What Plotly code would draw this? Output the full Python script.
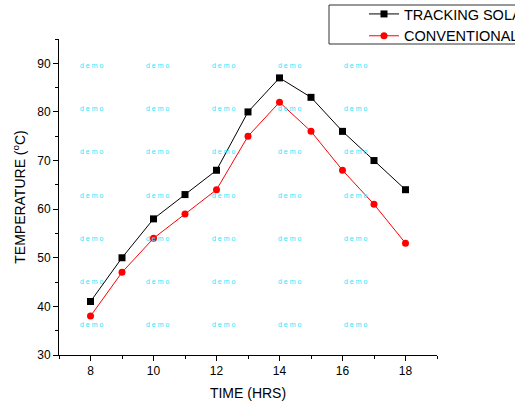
import plotly.graph_objects as go

hours = [8, 9, 10, 11, 12, 13, 14, 15, 16, 17, 18]
tracking = [41, 50, 58, 63, 68, 80, 87, 83, 76, 70, 64]
conventional = [38, 47, 54, 59, 64, 75, 82, 76, 68, 61, 53]
series_names = ["TRACKING SOLAR STILL", "CONVENTIONAL SOLAR STILL"]
x_ticks = [8, 10, 12, 14, 16, 18]
y_ticks = [30, 40, 50, 60, 70, 80, 90]

W, H = 515, 407
L, R, T, B = 59, 78, 39, 52
pw, ph = W - L - R, H - T - B

def px(xp):
    return (xp - L) / pw

def py(yp):
    return (H - B - yp) / ph

fig = go.Figure()
fig.add_trace(go.Scatter(
    x=hours, y=tracking, name=series_names[0], mode="lines+markers",
    line=dict(color="black", width=1),
    marker=dict(symbol="square", size=7, color="black"),
))
fig.add_trace(go.Scatter(
    x=hours, y=conventional, name=series_names[1], mode="lines+markers",
    line=dict(color="red", width=1),
    marker=dict(symbol="circle", size=7, color="red"),
))

# watermark text
annotations = []
for cx in [91, 157, 223, 289, 355]:
    for cy in [65, 108, 151, 195, 238, 281, 324]:
        annotations.append(dict(
            x=px(cx), y=py(cy), xref="paper", yref="paper", text="d e m o",
            showarrow=False, font=dict(family="Arial", size=7, color="#1ee6ff"),
            xanchor="center", yanchor="middle",
        ))

font_family = "Arial, Liberation Sans, sans-serif"
fig.update_layout(
    width=W, height=H,
    margin=dict(l=L, r=R, t=T, b=B, autoexpand=False),
    paper_bgcolor="white", plot_bgcolor="white",
    font=dict(family=font_family, color="black"),
    showlegend=True,
    legend=dict(
        x=px(364), y=py(-2), xanchor="left", yanchor="top",
        bgcolor="rgba(0,0,0,0)", borderwidth=0,
        font=dict(size=14.5, family=font_family, color="black"),
        tracegroupgap=0,
    ),
    shapes=[dict(
        type="rect", xref="paper", yref="paper",
        x0=px(329), x1=px(530), y0=py(44), y1=py(5),
        line=dict(color="#333333", width=1),
    )],
    annotations=annotations,
    xaxis=dict(
        range=[7, 19], tickvals=x_ticks, ticks="outside", ticklen=5,
        tickcolor="black", showline=True, linecolor="black", linewidth=1,
        showgrid=False, zeroline=False,
        tickfont=dict(size=12, family=font_family, color="black"),
        minor=dict(dtick=1, tick0=7, ticks="outside", ticklen=3, tickcolor="black", showgrid=False),
        title=dict(text="TIME (HRS)", font=dict(size=14, family=font_family, color="black"), standoff=10),
    ),
    yaxis=dict(
        range=[30, 95], tickvals=y_ticks, ticks="outside", ticklen=5,
        tickcolor="black", showline=True, linecolor="black", linewidth=1,
        showgrid=False, zeroline=False,
        tickfont=dict(size=12, family=font_family, color="black"),
        minor=dict(dtick=5, tick0=30, ticks="outside", ticklen=3, tickcolor="black", showgrid=False),
        title=dict(text="TEMPERATURE (<sup>o</sup>C)", font=dict(size=14, family=font_family, color="black"), standoff=8),
    ),
)

fig.write_html(
    "out.html",
    config={"displayModeBar": False},
    post_script="document.body.style.margin='0';document.body.style.padding='0';document.body.style.overflow='hidden';",
)
